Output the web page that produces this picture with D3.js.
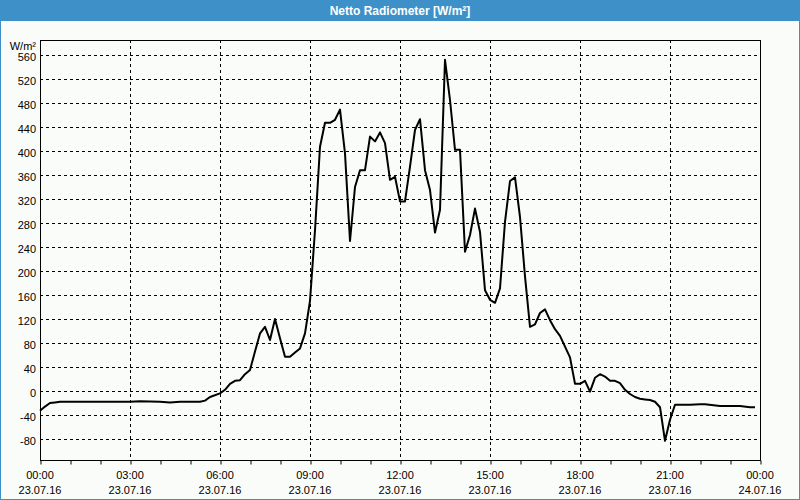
<!DOCTYPE html>
<html>
<head>
<meta charset="utf-8">
<script src="https://cdn.jsdelivr.net/npm/d3@7"></script>
<style>
html,body{margin:0;padding:0;background:#fafcfa;}
svg{display:block;}
text{font-family:"Liberation Sans",Arial,sans-serif;}
</style>
</head>
<body>
<svg id="chart" width="800" height="500"></svg>
<script>
const chartTitle = "Netto Radiometer [W/m²]";
const unitLabel = "W/m²";
const times = [
 "00:00","00:10","00:20","00:30","00:40","01:00","02:00","03:00","03:20","04:00","04:20","04:40","05:00","05:20","05:30","05:40",
 "06:00","06:10","06:20","06:30","06:40","06:50","07:00","07:10","07:20","07:30","07:40","07:50","08:00","08:10","08:20","08:30","08:40","08:50",
 "09:00","09:10","09:20","09:30","09:40","09:50","10:00","10:10","10:20","10:30","10:40","10:50",
 "11:00","11:10","11:20","11:30","11:40","11:50","12:00","12:10","12:20","12:30","12:40","12:50",
 "13:00","13:10","13:20","13:30","13:40","13:50","14:00","14:10","14:20","14:30","14:40","14:50",
 "15:00","15:10","15:20","15:30","15:40","15:50","16:00","16:10","16:20","16:30","16:40","16:50",
 "17:00","17:10","17:20","17:30","17:40","17:50","18:00","18:10","18:20","18:30","18:40","18:50",
 "19:00","19:10","19:20","19:30","19:40","19:50","20:00","20:10","20:20","20:30","20:40","20:50",
 "21:00","21:10","21:40","22:00","22:10","22:40","23:20","23:40","23:50"
];
const values = [
 -33,-26,-20,-19,-18,-18,-18,-18,-17,-18,-19,-18,-18,-18,-16,-10,
 -4,2,12,17,18,28,35,66,96,107,85,120,88,57,57,64,71,96,
 150,268,407,447,447,452,469,396,250,340,368,368,
 424,416,431,413,352,357,316,316,374,435,453,368,
 335,264,302,552,485,402,402,232,260,304,265,168,
 152,147,171,282,350,356,290,191,107,111,130,136,
 118,103,92,74,56,12,12,17,-1,22,28,24,
 17,17,13,2,-5,-10,-13,-14,-15,-18,-27,-83,
 -48,-23,-23,-22,-22,-25,-25,-27,-27
];
const yTicks = [-80,-40,0,40,80,120,160,200,240,280,320,360,400,440,480,520,560];
const xTickHours = [0,3,6,9,12,15,18,21,24];
const xTickTimes = ["00:00","03:00","06:00","09:00","12:00","15:00","18:00","21:00","00:00"];
const xTickDates = ["23.07.16","23.07.16","23.07.16","23.07.16","23.07.16","23.07.16","23.07.16","23.07.16","24.07.16"];

const svg = d3.select("#chart");
const W = 800, H = 500;
const L = 40, R = 760, T = 40, B = 460;

svg.append("rect").attr("x",0).attr("y",0).attr("width",W).attr("height",H).attr("fill","#fafcfa");
svg.append("rect").attr("x",0).attr("y",0).attr("width",W).attr("height",21).attr("fill","#3d91c8");
svg.append("rect").attr("x",0.5).attr("y",0.5).attr("width",W-1).attr("height",H-1)
  .attr("fill","none").attr("stroke","#3d91c8").attr("stroke-width",1);
svg.append("text").attr("x",W/2).attr("y",11).attr("text-anchor","middle")
  .attr("dominant-baseline","central").attr("fill","#fff").attr("font-weight","bold")
  .attr("font-size",12).text(chartTitle);

const toHours = s => { const [h,m] = s.split(":").map(Number); return h + m/60; };
const x = d3.scaleLinear().domain([0,24]).range([L,R]);
const y = d3.scaleLinear().domain([-115,585]).range([B,T]);

// grid
svg.append("g").selectAll("line").data(yTicks).join("line")
  .attr("x1",L).attr("x2",R).attr("y1",d=>Math.round(y(d))+0.5).attr("y2",d=>Math.round(y(d))+0.5)
  .attr("stroke","#000").attr("stroke-width",1).attr("stroke-dasharray","3,3");
svg.append("g").selectAll("line").data(xTickHours.slice(1,-1)).join("line")
  .attr("x1",d=>Math.round(x(d))+0.5).attr("x2",d=>Math.round(x(d))+0.5).attr("y1",T).attr("y2",B)
  .attr("stroke","#000").attr("stroke-width",1).attr("stroke-dasharray","3,3");

// x axis minor/major ticks
const xAxis = d3.axisBottom(x).tickValues(d3.range(0,25,1)).tickSize(4).tickFormat("");
const gx = svg.append("g").attr("transform",`translate(0.5,${B+0.5})`).call(xAxis);
gx.select(".domain").remove();
gx.selectAll("line").attr("stroke","#000");

// frame
svg.append("rect").attr("x",L+0.5).attr("y",T+0.5).attr("width",R-L).attr("height",B-T)
  .attr("fill","none").attr("stroke","#000").attr("stroke-width",1);

// y labels
svg.append("g").selectAll("text").data(yTicks).join("text")
  .attr("x",36).attr("y",d=>y(d)+1.5).attr("text-anchor","end").attr("dominant-baseline","central")
  .attr("font-size",11).attr("fill","#000").text(d=>d);
svg.append("text").attr("x",36).attr("y",46).attr("text-anchor","end").attr("dominant-baseline","central")
  .attr("font-size",11).attr("fill","#000").text(unitLabel);

// x labels
const xl = svg.append("g").selectAll("g").data(xTickHours).join("g");
xl.append("text").attr("x",(d)=>x(d)).attr("y",475).attr("text-anchor","middle").attr("dominant-baseline","central")
  .attr("font-size",11).attr("fill","#000").text((d,i)=>xTickTimes[i]);
xl.append("text").attr("x",(d)=>x(d)).attr("y",490).attr("text-anchor","middle").attr("dominant-baseline","central")
  .attr("font-size",11).attr("fill","#000").text((d,i)=>xTickDates[i]);

// line
const data = times.map((t,i)=>({h:toHours(t), v:values[i]}));
svg.append("path").datum(data)
  .attr("fill","none").attr("stroke","#000").attr("stroke-width",2).attr("stroke-linejoin","round")
  .attr("d", d3.line().x(d=>x(d.h)).y(d=>y(d.v)));
</script>
</body>
</html>
